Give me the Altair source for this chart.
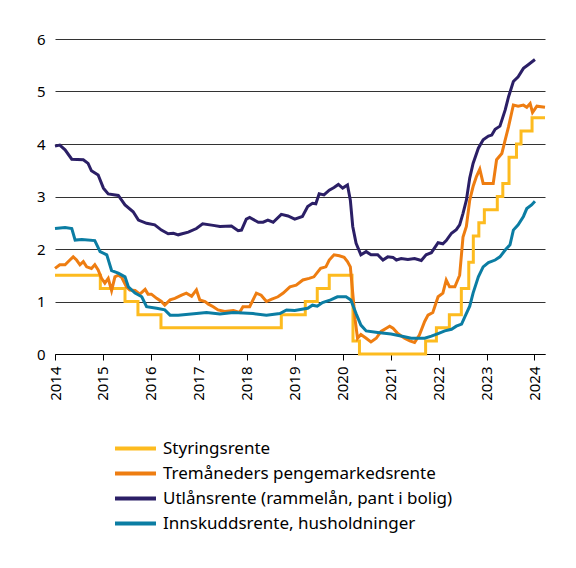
import altair as alt
import pandas as pd

names = ["Styringsrente", "Tremåneders pengemarkedsrente",
         "Utlånsrente (rammelån, pant i bolig)", "Innskuddsrente, husholdninger"]
colors = ["#FDBB1F", "#EE7D11", "#2B1F66", "#0B7DA3"]

# Styringsrente (endringsdatoer, desimalår)
styr_x = [2014.0, 2014.945, 2015.46, 2015.73, 2016.21, 2018.72, 2019.22, 2019.47,
          2019.72, 2020.195, 2020.215, 2020.35, 2021.73, 2021.955, 2022.225,
          2022.475, 2022.63, 2022.725, 2022.84, 2022.955, 2023.225, 2023.34,
          2023.47, 2023.625, 2023.72, 2023.95, 2024.22]
styr_y = [1.5, 1.25, 1.0, 0.75, 0.5, 0.75, 1.0, 1.25,
          1.5, 1.0, 0.25, 0.0, 0.25, 0.5, 0.75,
          1.25, 1.75, 2.25, 2.5, 2.75, 3.0, 3.25,
          3.75, 4.0, 4.25, 4.5, 4.5]

# Tremåneders pengemarkedsrente
nibor_x = [2014.0, 2014.1, 2014.21, 2014.31, 2014.38, 2014.45, 2014.52, 2014.59,
           2014.66, 2014.76, 2014.83, 2014.9, 2014.97, 2015.04, 2015.11, 2015.18,
           2015.25, 2015.32, 2015.39, 2015.49, 2015.56, 2015.67, 2015.77, 2015.88,
           2015.94, 2016.01, 2016.12, 2016.22, 2016.29, 2016.4, 2016.5, 2016.64,
           2016.74, 2016.85, 2016.95, 2017.02, 2017.13, 2017.2, 2017.3, 2017.4,
           2017.54, 2017.72, 2017.85, 2017.92, 2018.06, 2018.2, 2018.3, 2018.41,
           2018.51, 2018.65, 2018.76, 2018.9, 2019.03, 2019.17, 2019.3, 2019.4,
           2019.54, 2019.65, 2019.72, 2019.82, 2019.93, 2020.03, 2020.1, 2020.16,
           2020.21, 2020.26, 2020.31, 2020.38, 2020.49, 2020.59, 2020.7, 2020.8,
           2020.91, 2020.98, 2021.05, 2021.15, 2021.29, 2021.4, 2021.5, 2021.6,
           2021.71, 2021.78, 2021.88, 2021.99, 2022.09, 2022.16, 2022.23, 2022.34,
           2022.44, 2022.51, 2022.58, 2022.65, 2022.72, 2022.79, 2022.86, 2022.93,
           2023.04, 2023.14, 2023.21, 2023.32, 2023.39, 2023.46, 2023.53, 2023.56,
           2023.66, 2023.77, 2023.84, 2023.91, 2023.96, 2024.05, 2024.22]
nibor_y = [1.63, 1.70, 1.70, 1.79, 1.85, 1.79, 1.70, 1.76,
           1.66, 1.63, 1.70, 1.60, 1.44, 1.35, 1.44, 1.21,
           1.47, 1.50, 1.46, 1.28, 1.22, 1.21, 1.14, 1.23,
           1.14, 1.14, 1.06, 1.00, 0.93, 1.03, 1.06, 1.12,
           1.16, 1.10, 1.22, 1.03, 1.00, 0.95, 0.90, 0.84,
           0.81, 0.83, 0.79, 0.90, 0.90, 1.16, 1.12, 1.00,
           1.04, 1.09, 1.16, 1.28, 1.31, 1.41, 1.44, 1.47,
           1.63, 1.66, 1.79, 1.89, 1.87, 1.84, 1.76, 1.66,
           1.16, 0.65, 0.30, 0.37, 0.30, 0.23, 0.30, 0.43,
           0.49, 0.53, 0.49, 0.39, 0.30, 0.25, 0.22, 0.36,
           0.62, 0.74, 0.79, 1.09, 1.16, 1.41, 1.28, 1.28,
           1.50, 2.23, 2.43, 2.93, 3.19, 3.38, 3.52, 3.25,
           3.25, 3.25, 3.70, 3.82, 4.08, 4.33, 4.62, 4.74,
           4.72, 4.74, 4.70, 4.77, 4.60, 4.72, 4.70]

# Utlånsrente (rammelån, pant i bolig)
utlan_x = [2014.0, 2014.1, 2014.21, 2014.35, 2014.59, 2014.69, 2014.76, 2014.9,
           2015.01, 2015.11, 2015.32, 2015.46, 2015.63, 2015.74, 2015.91, 2016.08,
           2016.22, 2016.36, 2016.47, 2016.57, 2016.78, 2016.95, 2017.08, 2017.3,
           2017.44, 2017.68, 2017.82, 2017.89, 2017.99, 2018.06, 2018.24, 2018.34,
           2018.44, 2018.55, 2018.72, 2018.86, 2019.0, 2019.16, 2019.27, 2019.37,
           2019.44, 2019.51, 2019.61, 2019.72, 2019.82, 2019.91, 2020.0, 2020.1,
           2020.16, 2020.21, 2020.28, 2020.38, 2020.49, 2020.59, 2020.73, 2020.84,
           2020.94, 2021.05, 2021.12, 2021.22, 2021.36, 2021.5, 2021.64, 2021.74,
           2021.85, 2021.99, 2022.09, 2022.16, 2022.27, 2022.37, 2022.44, 2022.51,
           2022.58, 2022.65, 2022.72, 2022.83, 2022.93, 2023.04, 2023.11, 2023.18,
           2023.28, 2023.39, 2023.46, 2023.56, 2023.66, 2023.77, 2023.87, 2024.01]
utlan_y = [3.96, 3.98, 3.89, 3.71, 3.70, 3.63, 3.49, 3.41,
           3.16, 3.05, 3.02, 2.84, 2.71, 2.55, 2.49, 2.46,
           2.36, 2.29, 2.30, 2.27, 2.32, 2.39, 2.48, 2.45,
           2.43, 2.44, 2.35, 2.36, 2.57, 2.60, 2.51, 2.51,
           2.55, 2.51, 2.66, 2.63, 2.57, 2.62, 2.81, 2.87,
           2.86, 3.05, 3.03, 3.12, 3.17, 3.23, 3.16, 3.22,
           2.93, 2.43, 2.11, 1.89, 1.95, 1.89, 1.89, 1.79,
           1.85, 1.84, 1.79, 1.82, 1.80, 1.82, 1.78, 1.89,
           1.93, 2.12, 2.10, 2.16, 2.30, 2.37, 2.46, 2.68,
           2.93, 3.35, 3.63, 3.92, 4.08, 4.15, 4.17, 4.28,
           4.34, 4.65, 4.90, 5.19, 5.28, 5.44, 5.51, 5.61]

# Innskuddsrente, husholdninger
innsk_x = [2014.0, 2014.21, 2014.35, 2014.42, 2014.56, 2014.83, 2014.94, 2015.08,
           2015.18, 2015.32, 2015.46, 2015.53, 2015.67, 2015.81, 2015.91, 2016.12,
           2016.29, 2016.4, 2016.57, 2016.95, 2017.16, 2017.44, 2017.72, 2018.13,
           2018.41, 2018.69, 2018.83, 2019.0, 2019.27, 2019.37, 2019.47, 2019.58,
           2019.75, 2019.89, 2020.07, 2020.17, 2020.28, 2020.38, 2020.49, 2020.73,
           2021.01, 2021.29, 2021.43, 2021.71, 2021.85, 2021.99, 2022.13, 2022.27,
           2022.37, 2022.48, 2022.55, 2022.65, 2022.72, 2022.83, 2022.93, 2023.04,
           2023.18, 2023.28, 2023.39, 2023.49, 2023.56, 2023.66, 2023.77, 2023.84,
           2023.94, 2024.01]
innsk_y = [2.39, 2.41, 2.39, 2.17, 2.18, 2.16, 1.95, 1.89,
           1.59, 1.54, 1.47, 1.28, 1.16, 1.09, 0.90, 0.87,
           0.84, 0.74, 0.74, 0.77, 0.79, 0.76, 0.79, 0.77,
           0.74, 0.77, 0.84, 0.83, 0.87, 0.93, 0.91, 0.98,
           1.03, 1.09, 1.09, 1.03, 0.77, 0.55, 0.44, 0.41,
           0.38, 0.33, 0.30, 0.30, 0.34, 0.39, 0.44, 0.47,
           0.53, 0.57, 0.71, 0.91, 1.16, 1.47, 1.66, 1.74,
           1.79, 1.85, 1.98, 2.08, 2.36, 2.46, 2.62, 2.77,
           2.84, 2.91]

year_ticks = list(range(2014, 2025))
y_ticks = [0, 1, 2, 3, 4, 5, 6]

frames = []
for name, xs, ys in zip(names, [styr_x, nibor_x, utlan_x, innsk_x],
                        [styr_y, nibor_y, utlan_y, innsk_y]):
    assert len(xs) == len(ys), name
    frames.append(pd.DataFrame({"aar": xs, "rente": ys, "serie": name}))
df = pd.concat(frames, ignore_index=True)

font = "Noto Sans"

base = alt.Chart(df).encode(
    x=alt.X("aar:Q", title=None,
            scale=alt.Scale(domain=[2014, 2024.22], nice=False, zero=False),
            axis=alt.Axis(values=year_ticks, format="d", labelAngle=-90,
                          labelAlign="right", labelBaseline="middle",
                          labelPadding=6, tickSize=6, tickColor="#000",
                          domainColor="#000", grid=False, labelFontSize=15,
                          labelColor="#000", labelFont=font)),
    y=alt.Y("rente:Q", title=None,
            scale=alt.Scale(domain=[0, 6], nice=False),
            axis=alt.Axis(values=y_ticks, format="d", domain=False, ticks=False,
                          labelPadding=10, grid=True, gridColor="#333",
                          gridWidth=1, labelFontSize=15, labelColor="#000",
                          labelFont=font)),
    color=alt.Color("serie:N", sort=names,
                    scale=alt.Scale(domain=names, range=colors),
                    legend=alt.Legend(title=None, orient="none", legendX=68,
                                      legendY=397, direction="vertical",
                                      symbolType="M-2,0H2", symbolStrokeWidth=4,
                                      symbolSize=420, labelFontSize=17,
                                      labelFont=font, labelColor="#000",
                                      labelOffset=15, rowPadding=4, padding=0,
                                      labelLimit=500)),
)

styr = base.transform_filter(alt.datum.serie == names[0]).mark_line(
    interpolate="step-after", strokeWidth=3)
andre = base.transform_filter(alt.datum.serie != names[0]).mark_line(strokeWidth=3)

chart = alt.layer(styr, andre).properties(
    width=490, height=315,
    autosize=alt.AutoSizeParams(type="none"),
    padding={"left": 47, "top": 31, "right": 20, "bottom": 200},
).configure_view(stroke=None)

chart.save("out.html", embed_options={"renderer": "svg", "actions": False})
